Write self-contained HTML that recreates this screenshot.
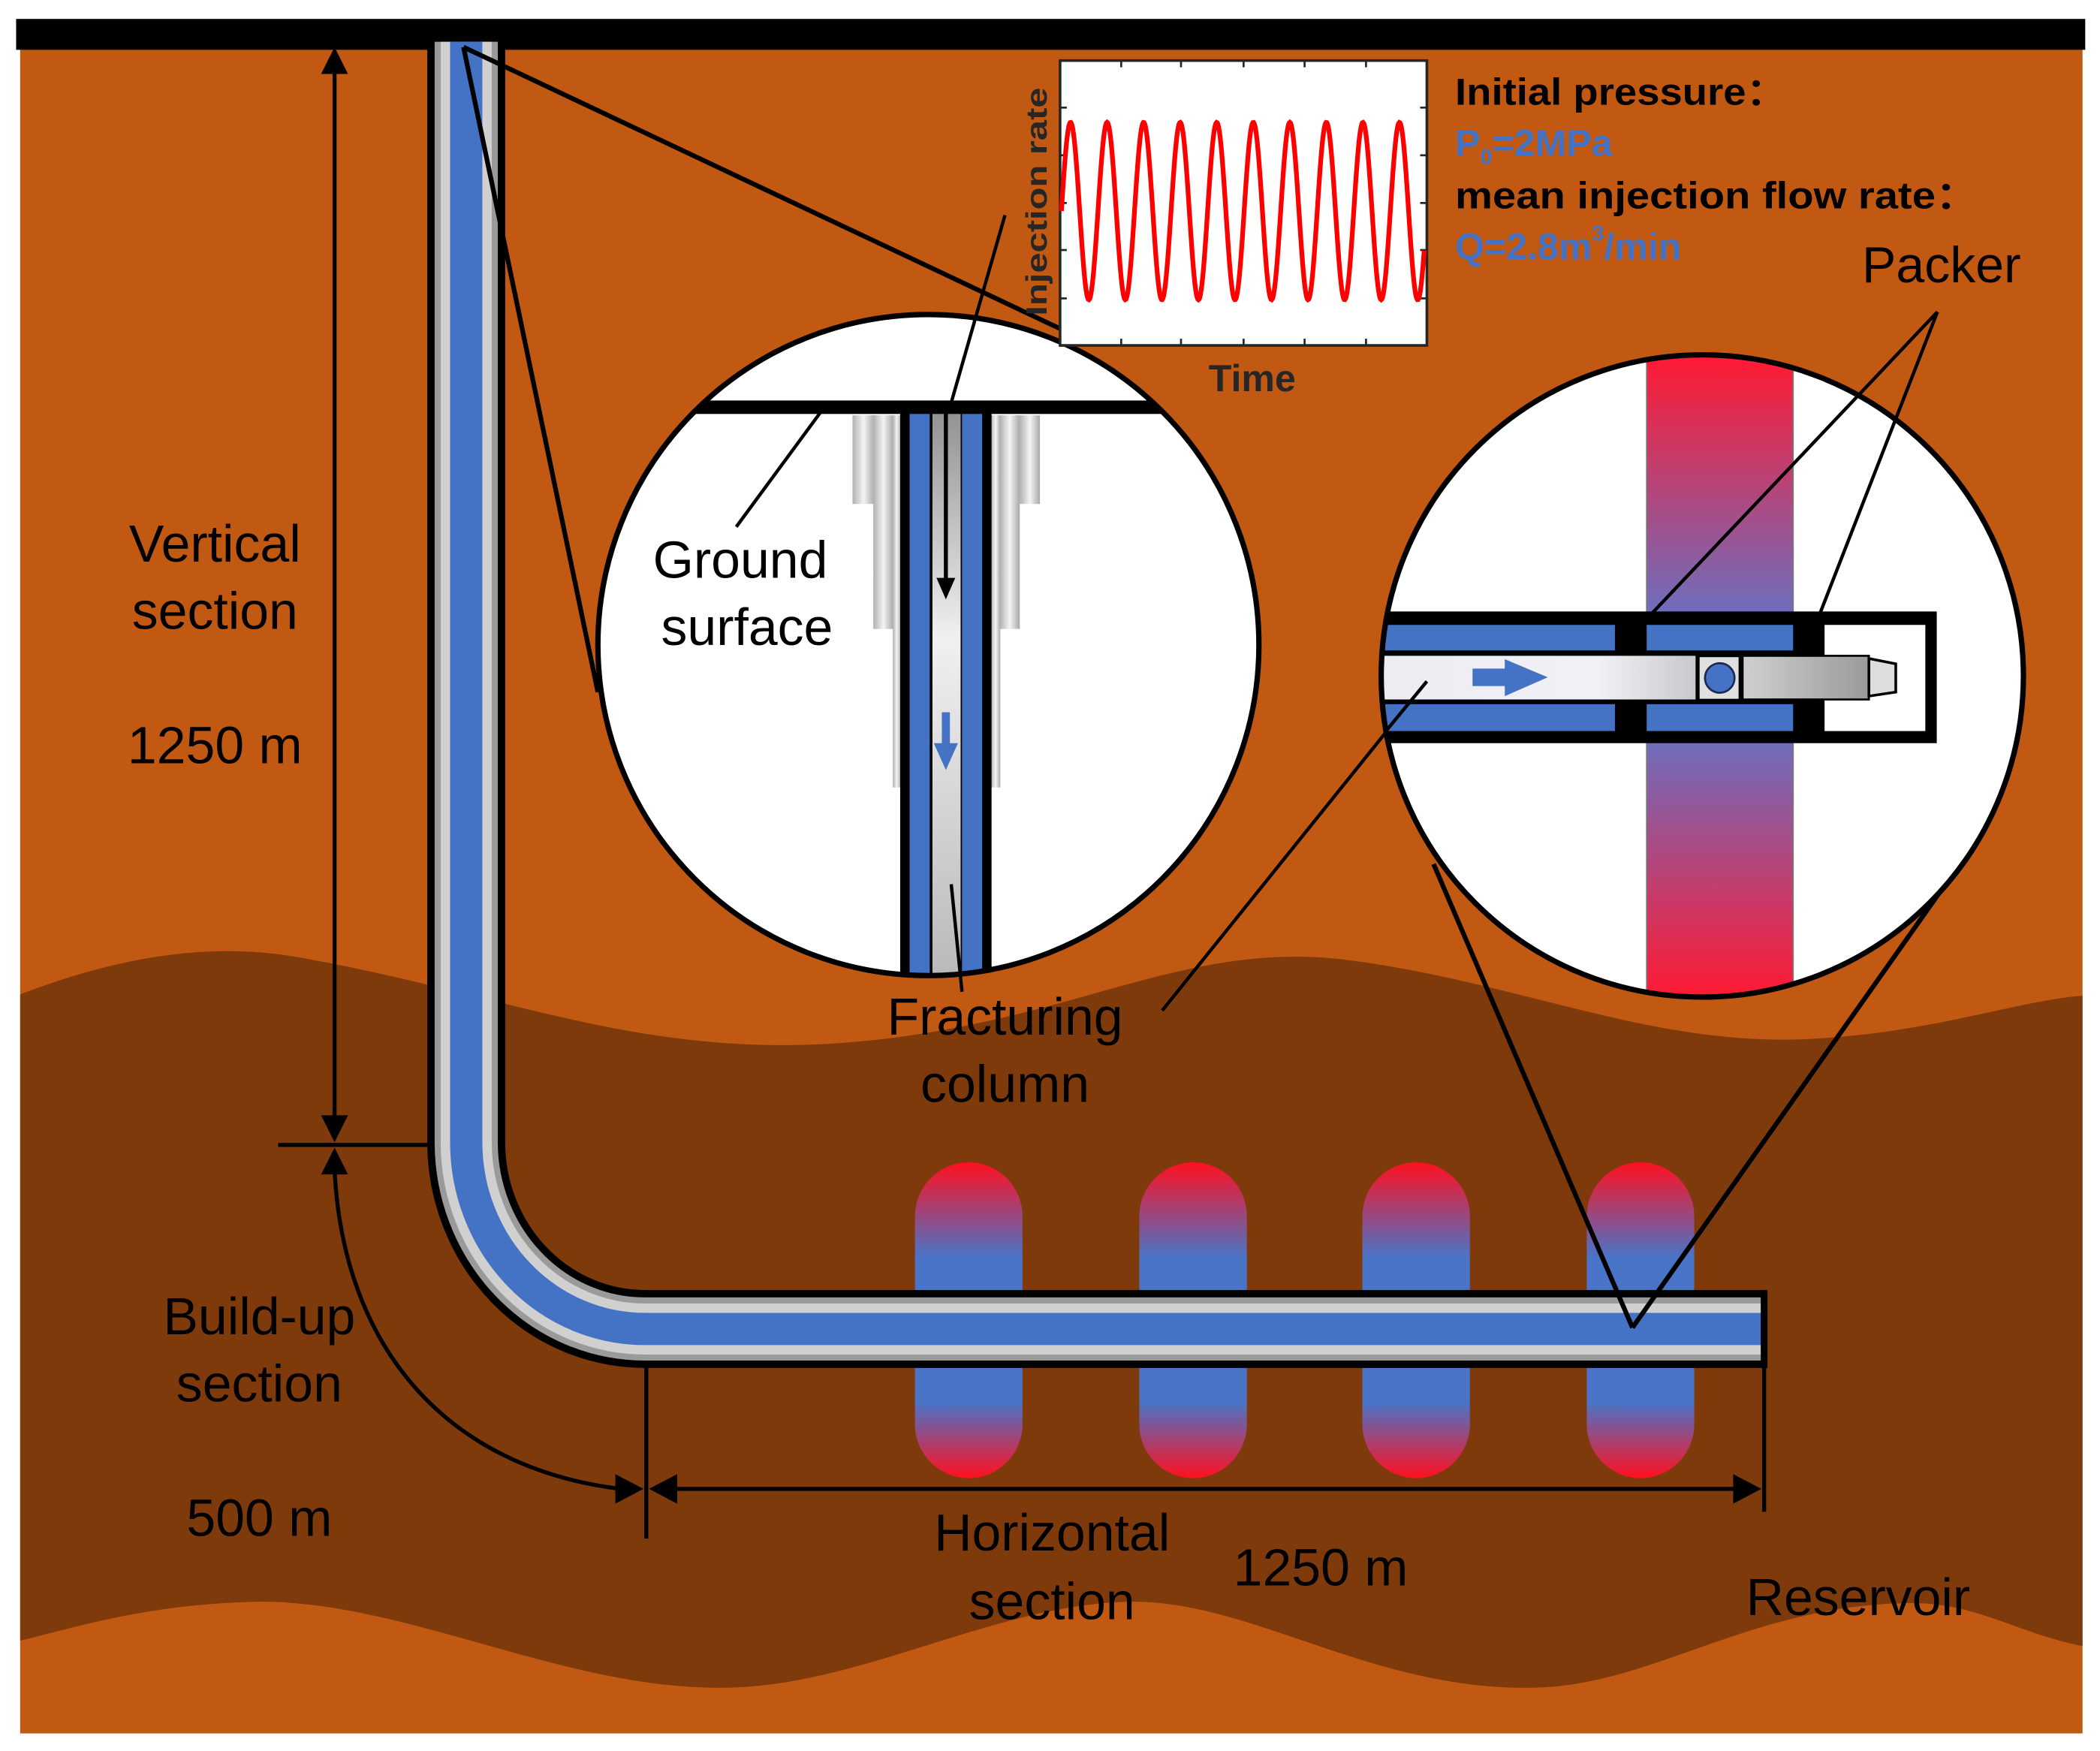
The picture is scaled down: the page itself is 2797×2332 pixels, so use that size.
<!DOCTYPE html>
<html><head><meta charset="utf-8"><style>
html,body{margin:0;padding:0;background:#fff;}
svg{display:block;}
text{font-family:"Liberation Sans",Arial,sans-serif;}
</style></head><body>
<svg width="2797" height="2332" viewBox="0 0 1563 1303" xmlns="http://www.w3.org/2000/svg">
<defs>
<linearGradient id="frac" x1="0" y1="0" x2="0" y2="1">
<stop offset="0" stop-color="#ff1020"/><stop offset="0.3" stop-color="#4a74c8"/><stop offset="0.76" stop-color="#4a74c8"/><stop offset="1" stop-color="#ff1020"/>
</linearGradient>
<linearGradient id="band" x1="0" y1="266" x2="0" y2="741" gradientUnits="userSpaceOnUse">
<stop offset="0" stop-color="#ff1a33"/><stop offset="0.4" stop-color="#6e6ebd"/><stop offset="0.6" stop-color="#6e6ebd"/><stop offset="1" stop-color="#ff1a33"/>
</linearGradient>
<linearGradient id="cas" x1="0" y1="0" x2="1" y2="0">
<stop offset="0" stop-color="#b0b0b0"/><stop offset="0.5" stop-color="#f4f4f4"/><stop offset="1" stop-color="#a8a8a8"/>
</linearGradient>
<linearGradient id="tubeL" x1="0" y1="0" x2="1" y2="0">
<stop offset="0" stop-color="#ececf2"/><stop offset="0.7" stop-color="#f0f0f6"/><stop offset="1" stop-color="#c8c8cc"/>
</linearGradient>
<linearGradient id="tubeR" x1="0" y1="0" x2="1" y2="0">
<stop offset="0" stop-color="#d0d0d0"/><stop offset="1" stop-color="#9a9a9a"/>
</linearGradient>
<linearGradient id="inner" x1="0" y1="0" x2="0" y2="1">
<stop offset="0" stop-color="#909090"/><stop offset="0.4" stop-color="#f0f0f0"/><stop offset="1" stop-color="#b8b8b8"/>
</linearGradient>
<clipPath id="cL"><circle cx="691" cy="480" r="246"/></clipPath>
<clipPath id="cR"><circle cx="1267" cy="503" r="239"/></clipPath>
</defs>

<rect x="15" y="36" width="1535" height="1254" fill="#c25912"/>
<path d="M15,740 C80,715 150,700 220,712 C380,740 480,790 640,775 C800,760 880,700 1000,714 C1130,730 1230,780 1350,773 C1440,768 1500,745 1550,741 L1550,1225 C1500,1215 1470,1192 1420,1193 C1300,1195 1230,1255 1140,1256 C1020,1258 930,1190 840,1192 C740,1194 640,1255 540,1256 C420,1258 300,1190 190,1192 C110,1194 60,1210 15,1221 Z" fill="#7f3a0c"/>
<rect x="12" y="14" width="1540" height="23" fill="#000"/>

<rect x="681" y="865" width="80" height="235" rx="40" fill="url(#frac)"/>
<rect x="848" y="865" width="80" height="235" rx="40" fill="url(#frac)"/>
<rect x="1014" y="865" width="80" height="235" rx="40" fill="url(#frac)"/>
<rect x="1181" y="865" width="80" height="235" rx="40" fill="url(#frac)"/>

<g fill="none" stroke-linecap="butt">
<path d="M347,31 V850 A133 139 0 0 0 480,989 H1313" stroke="#000" stroke-width="58"/>
<path d="M347,31 V850 A133 139 0 0 0 480,989 H1311" stroke="#9a9a9a" stroke-width="47"/>
<path d="M347,31 V850 A133 139 0 0 0 480,989 H1311" stroke="#d0d0d0" stroke-width="38"/>
<path d="M347,31 V850 A133 139 0 0 0 480,989 H1311" stroke="#4472c4" stroke-width="24"/>
</g>
<line x1="1313" y1="960" x2="1313" y2="1018" stroke="#000" stroke-width="5"/>

<g stroke="#000" stroke-width="3" fill="none">
<line x1="249" y1="50" x2="249" y2="835"/>
<line x1="207" y1="852" x2="318" y2="852"/>
<path d="M249,870 C255,1000 330,1092 462,1108"/>
<line x1="481" y1="1017" x2="481" y2="1145"/>
<line x1="1313" y1="1017" x2="1313" y2="1125"/>
<line x1="500" y1="1108" x2="1295" y2="1108"/>
</g>
<g fill="#000">
<polygon points="249,35 239,55 259,55"/>
<polygon points="249,850 239,830 259,830"/>
<polygon points="249,854 239,874 259,874"/>
<polygon points="479,1108 458,1097 458,1119"/>
<polygon points="483,1108 504,1097 504,1119"/>
<polygon points="1311,1108 1290,1097 1290,1119"/>
</g>

<g stroke="#000" stroke-width="3.5" fill="none">
<line x1="345" y1="35" x2="445" y2="515"/>
<line x1="345" y1="35" x2="790" y2="245"/>
</g>

<circle cx="691" cy="480" r="246" fill="#fff"/>
<g clip-path="url(#cL)">
<rect x="634.5" y="309" width="16.5" height="66" fill="url(#cas)"/>
<rect x="759" y="309" width="15" height="66" fill="url(#cas)"/>
<rect x="650" y="309" width="15" height="159" fill="url(#cas)"/>
<rect x="744" y="309" width="15" height="159" fill="url(#cas)"/>
<rect x="664.5" y="309" width="6" height="277" fill="url(#cas)"/>
<rect x="737.5" y="309" width="7" height="277" fill="url(#cas)"/>
<rect x="670" y="303" width="68" height="430" fill="#000"/>
<rect x="677" y="303" width="15" height="430" fill="#4472c4"/>
<rect x="716" y="303" width="15" height="430" fill="#4472c4"/>
<rect x="694" y="303" width="21" height="430" fill="url(#inner)"/>
<rect x="515" y="298" width="360" height="10" fill="#000"/>
<line x1="704" y1="303" x2="704" y2="432" stroke="#000" stroke-width="3"/>
<polygon points="704,446 697,430 711,430" fill="#000"/>
<rect x="701" y="530" width="6" height="24" fill="#4472c4"/>
<polygon points="704,573 695,553 713,553" fill="#4472c4"/>
<line x1="612" y1="305" x2="548" y2="392" stroke="#000" stroke-width="2.5"/>
</g>
<circle cx="691" cy="480" r="246" fill="none" stroke="#000" stroke-width="4"/>
<line x1="748" y1="160" x2="707" y2="303" stroke="#000" stroke-width="2.5"/>
<line x1="708" y1="658" x2="716" y2="738" stroke="#000" stroke-width="2.5"/>

<rect x="789" y="45" width="273" height="212" fill="#fff" stroke="#262626" stroke-width="2"/>
<g stroke="#262626" stroke-width="1.5">
<line x1="789" y1="80" x2="794" y2="80"/><line x1="789" y1="115.5" x2="794" y2="115.5"/><line x1="789" y1="151" x2="794" y2="151"/><line x1="789" y1="186" x2="794" y2="186"/><line x1="789" y1="222" x2="794" y2="222"/>
<line x1="1062" y1="80" x2="1057" y2="80"/><line x1="1062" y1="115.5" x2="1057" y2="115.5"/><line x1="1062" y1="151" x2="1057" y2="151"/><line x1="1062" y1="186" x2="1057" y2="186"/><line x1="1062" y1="222" x2="1057" y2="222"/>
<line x1="834.5" y1="257" x2="834.5" y2="252"/><line x1="879" y1="257" x2="879" y2="252"/><line x1="925.6" y1="257" x2="925.6" y2="252"/><line x1="971" y1="257" x2="971" y2="252"/><line x1="1016.7" y1="257" x2="1016.7" y2="252"/>
<line x1="834.5" y1="45" x2="834.5" y2="50"/><line x1="879" y1="45" x2="879" y2="50"/><line x1="925.6" y1="45" x2="925.6" y2="50"/><line x1="971" y1="45" x2="971" y2="50"/><line x1="1016.7" y1="45" x2="1016.7" y2="50"/>
</g>
<path id="sine" fill="none" stroke="#ff0000" stroke-width="3.5" d=""/>
<script>
(function(){var d="";for(var i=0;i<=540;i++){var x=790+i*0.5;var y=157-66*Math.sin(2*Math.PI*(x-790)/27.2);d+=(i?"L":"M")+x.toFixed(2)+","+y.toFixed(2);}document.getElementById("sine").setAttribute("d",d);})();
</script>
<text x="0" y="0" transform="translate(779,150) rotate(-90)" text-anchor="middle" font-size="22" font-weight="bold" fill="#262626" textLength="170" lengthAdjust="spacingAndGlyphs">Injection rate</text>
<text x="932" y="291" text-anchor="middle" font-size="28" font-weight="bold" fill="#262626">Time</text>

<text x="1083" y="78" font-size="28" font-weight="bold" fill="#000" textLength="247" lengthAdjust="spacingAndGlyphs">Initial pressure：</text>
<text x="1083" y="116" font-size="28" font-weight="bold" fill="#4472c4">P<tspan font-size="16" dy="6">0</tspan><tspan dy="-6">=2MPa</tspan></text>
<text x="1083" y="155" font-size="28" font-weight="bold" fill="#000" textLength="389" lengthAdjust="spacingAndGlyphs">mean injection flow rate：</text>
<text x="1083" y="193" font-size="28" font-weight="bold" fill="#4472c4">Q=2.8m<tspan font-size="16" dy="-14">3</tspan><tspan dy="14">/min</tspan></text>

<line x1="865" y1="752" x2="1062" y2="507" stroke="#000" stroke-width="2.5"/>
<circle cx="1267" cy="503" r="239" fill="#fff"/>
<g clip-path="url(#cR)">
<rect x="1225.6" y="260" width="109" height="490" fill="url(#band)" stroke="#777" stroke-width="1"/>
<rect x="1020" y="455" width="421.5" height="98" fill="#000"/>
<rect x="1358" y="465" width="75" height="79" fill="#fff"/>
<rect x="1020" y="465" width="182" height="19" fill="#4472c4"/>
<rect x="1020" y="524" width="182" height="20" fill="#4472c4"/>
<rect x="1225.6" y="465" width="109" height="19" fill="#4472c4"/>
<rect x="1225.6" y="524" width="109" height="20" fill="#4472c4"/>
<rect x="1020" y="488" width="243" height="32.5" fill="url(#tubeL)"/>
<rect x="1262" y="486" width="35" height="37" fill="#000"/>
<rect x="1265" y="489" width="29" height="31" fill="#e0e0e0"/>
<circle cx="1280" cy="504.5" r="11" fill="#4472c4" stroke="#1a2a50" stroke-width="1.5"/>
<rect x="1297" y="488" width="94" height="32.5" fill="url(#tubeR)" stroke="#000" stroke-width="1.5"/>
<polygon points="1391,490 1411,494 1411,515 1391,518" fill="#ddd" stroke="#000" stroke-width="2"/>
<rect x="1096" y="497.5" width="26" height="13" fill="#4472c4"/>
<polygon points="1152,504 1120,490.5 1120,518" fill="#4472c4"/>
<line x1="1062" y1="507" x2="1020" y2="558" stroke="#000" stroke-width="2.5"/>
</g>
<circle cx="1267" cy="503" r="239" fill="none" stroke="#000" stroke-width="4"/>
<g stroke="#000" stroke-width="2.5">
<line x1="1442" y1="232" x2="1228" y2="458"/>
<line x1="1442" y1="232" x2="1354" y2="458"/>
</g>
<g stroke="#000" stroke-width="3.5">
<line x1="1067" y1="643" x2="1215" y2="988"/>
<line x1="1443" y1="665" x2="1215" y2="988"/>
</g>
<text x="1445" y="210" text-anchor="middle" font-size="38" fill="#000">Packer</text>

<g font-size="39" fill="#000" text-anchor="middle">
<text x="160" y="418">Vertical</text>
<text x="160" y="468">section</text>
<text x="160" y="568">1250 m</text>
<text x="551" y="430">Ground</text>
<text x="556" y="480">surface</text>
<text x="748" y="770">Fracturing</text>
<text x="748" y="820">column</text>
<text x="193" y="993">Build-up</text>
<text x="193" y="1043">section</text>
<text x="193" y="1143">500 m</text>
<text x="783" y="1154">Horizontal</text>
<text x="783" y="1205">section</text>
<text x="983" y="1180">1250 m</text>
<text x="1383" y="1202">Reservoir</text>
</g>
</svg>
</body></html>
